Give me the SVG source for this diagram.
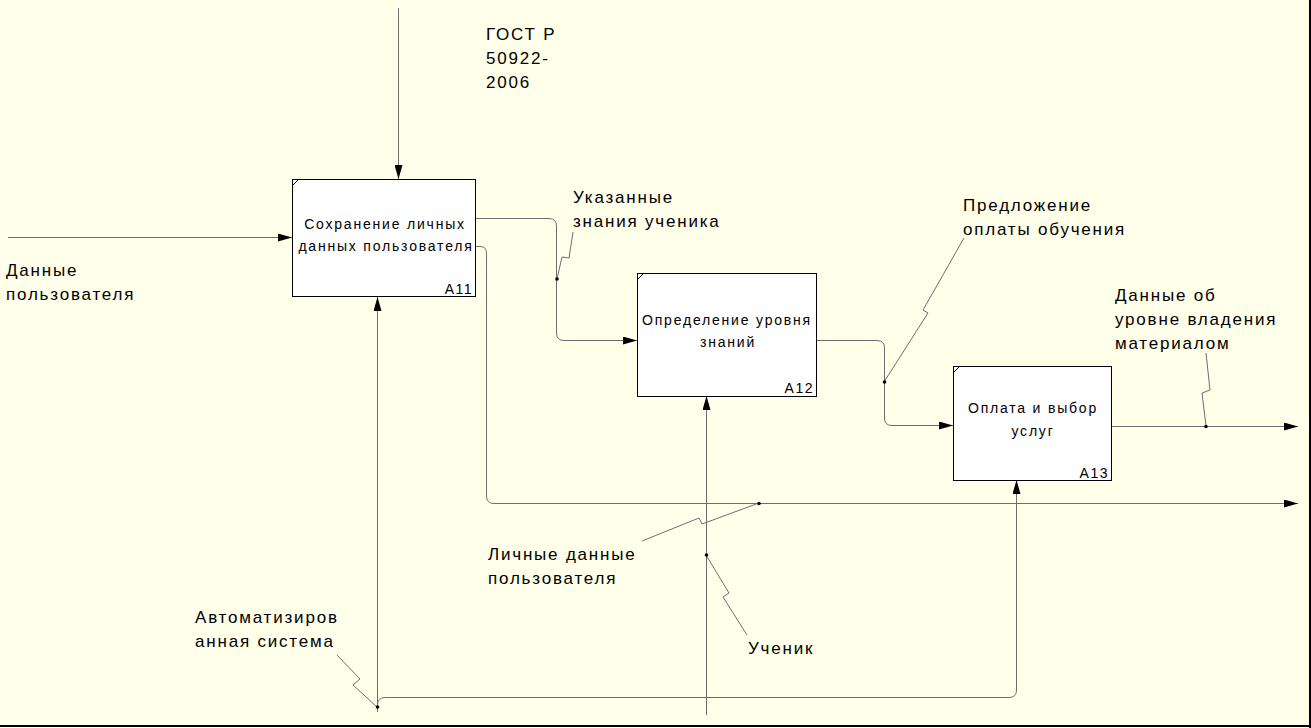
<svg xmlns="http://www.w3.org/2000/svg" width="1311" height="728" viewBox="0 0 1311 728">
<defs>
<marker id="arr" viewBox="0 0 14 8" refX="14" refY="4" markerWidth="14" markerHeight="8" markerUnits="userSpaceOnUse" orient="auto">
<path d="M0,0 L14,4 L0,8 Z" fill="#000"/>
</marker>
<style>
.bg{fill:#FFFFEA}
.box{fill:#fff;stroke:#000;stroke-width:1}
.tick{stroke:#000;stroke-width:1;fill:none}
.c{fill:none;stroke:#6e6e6e;stroke-width:1}
.sq{fill:none;stroke:#6e6e6e;stroke-width:1}
.bt{font-family:"Liberation Sans",Arial,sans-serif;font-size:14px;letter-spacing:1.8px;fill:#000;text-anchor:middle}
.id{font-family:"Liberation Sans",Arial,sans-serif;font-size:14px;letter-spacing:1.5px;fill:#000;text-anchor:end}
.lb{font-family:"Liberation Sans",Arial,sans-serif;font-size:17px;letter-spacing:1.8px;fill:#000}
.dot{fill:#000}
</style>
</defs>
<rect class="bg" x="0" y="0" width="1311" height="728"/>
<line x1="0" y1="726" x2="1311" y2="726" stroke="#000" stroke-width="2"/>
<line x1="1310" y1="0" x2="1310" y2="728" stroke="#000" stroke-width="2"/>

<g id="connectors">
  <path class="c" d="M398.5,8 V179" marker-end="url(#arr)"/>
  <path class="c" d="M8,237.5 H292" marker-end="url(#arr)"/>
  <path class="c" d="M475,218.5 H549 Q556.5,218.5 556.5,226 V333 Q556.5,340.5 564,340.5 H637" marker-end="url(#arr)"/>
  <path class="c" d="M475,246.5 H480 Q486.5,246.5 486.5,253 V496 Q486.5,503.5 494,503.5 H1298" marker-end="url(#arr)"/>
  <path class="c" d="M816,340.5 H877 Q884.5,340.5 884.5,348 V418 Q884.5,425.5 892,425.5 H953" marker-end="url(#arr)"/>
  <path class="c" d="M1112,426.5 H1298" marker-end="url(#arr)"/>
  <path class="c" d="M377.5,712 V297" marker-end="url(#arr)"/>
  <path class="c" d="M377.5,706 V705 Q377.5,697.5 385,697.5 H1009 Q1016.5,697.5 1016.5,690 V480" marker-end="url(#arr)"/>
  <path class="c" d="M706.5,715 V396" marker-end="url(#arr)"/>
  <path class="sq" d="M557,279 L562,257 L569,258 L573,232"/>
  <path class="sq" d="M759,503 L702,524 L699,518 L642,541"/>
  <path class="sq" d="M884,382 L928,313 L923,310 L964,238"/>
  <path class="sq" d="M1206,426 L1202,393 L1210,390 L1206,353"/>
  <path class="sq" d="M377,707 L353,685 L360,679 L337,655"/>
  <path class="sq" d="M706,555 L729,593 L723,597 L747,635"/>
  <circle class="dot" cx="557" cy="279" r="1.8"/>
  <circle class="dot" cx="759" cy="503.5" r="1.8"/>
  <circle class="dot" cx="884.5" cy="382" r="1.8"/>
  <circle class="dot" cx="1206" cy="426.5" r="1.8"/>
  <circle class="dot" cx="377.5" cy="707" r="1.8"/>
  <circle class="dot" cx="706.5" cy="555" r="1.8"/>
</g>

<g id="A11">
  <rect class="box" x="292.5" y="179.5" width="183" height="117"/>
  <line class="tick" x1="293" y1="185" x2="298" y2="180"/>
  <text class="bt" x="385" y="229">Сохранение личных</text>
  <text class="bt" x="386" y="251">данных пользователя</text>
  <text class="id" x="473" y="294">A11</text>
</g>
<g id="A12">
  <rect class="box" x="637.5" y="273.5" width="179" height="123"/>
  <line class="tick" x1="638" y1="279" x2="643" y2="274"/>
  <text class="bt" x="727" y="325">Определение уровня</text>
  <text class="bt" x="728" y="347">знаний</text>
  <text class="id" x="814" y="393">A12</text>
</g>
<g id="A13">
  <rect class="box" x="953.5" y="366.5" width="158" height="114"/>
  <line class="tick" x1="954" y1="372" x2="959" y2="367"/>
  <text class="bt" x="1033" y="413">Оплата и выбор</text>
  <text class="bt" x="1033" y="436">услуг</text>
  <text class="id" x="1109" y="478">A13</text>
</g>

<g id="labels">
  <text class="lb" x="486" y="40">ГОСТ Р</text>
  <text class="lb" x="486" y="64">50922-</text>
  <text class="lb" x="486" y="88">2006</text>
  <text class="lb" x="6" y="276">Данные</text>
  <text class="lb" x="6" y="300">пользователя</text>
  <text class="lb" x="573" y="203">Указанные</text>
  <text class="lb" x="573" y="227">знания ученика</text>
  <text class="lb" x="963" y="211">Предложение</text>
  <text class="lb" x="963" y="235">оплаты обучения</text>
  <text class="lb" x="1115" y="301">Данные об</text>
  <text class="lb" x="1115" y="325">уровне владения</text>
  <text class="lb" x="1115" y="349">материалом</text>
  <text class="lb" x="488" y="560">Личные данные</text>
  <text class="lb" x="488" y="584">пользователя</text>
  <text class="lb" x="195" y="623">Автоматизиров</text>
  <text class="lb" x="195" y="647">анная система</text>
  <text class="lb" x="748" y="654">Ученик</text>
</g>
</svg>
